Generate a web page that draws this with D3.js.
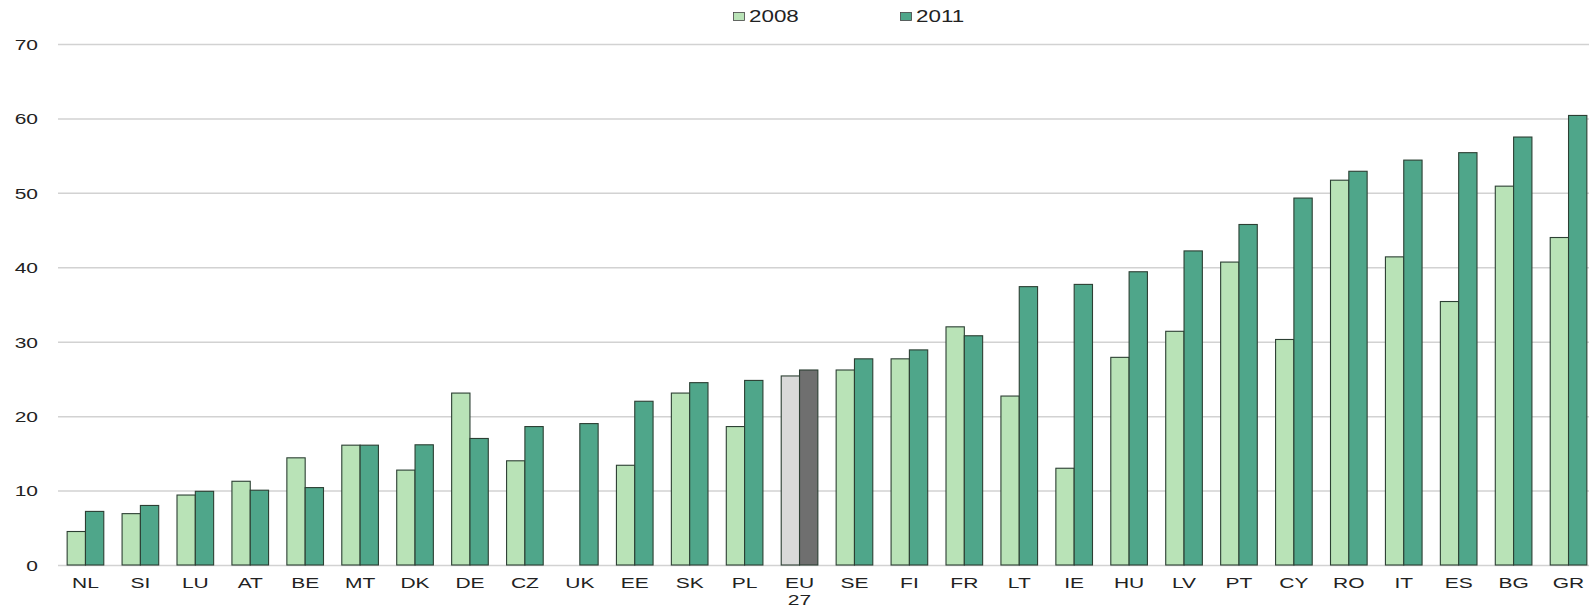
<!DOCTYPE html>
<html>
<head>
    <title>2008 vs 2011</title>
    <script src="https://d3js.org/d3.v7.min.js"></script>
    <style>
        body { margin: 0; background: #fff; }
        svg { display: block; }
        text { font-family: "Liberation Sans", Arial, sans-serif; font-size: 15px; fill: #222; }
        .grid line { stroke: #d2d2d2; stroke-width: 1.5; }
    </style>
</head>
<body>
    <svg id="chart" width="1589" height="608"></svg>

    <script>
        const countries = ["NL", "SI", "LU", "AT", "BE", "MT", "DK", "DE", "CZ", "UK", "EE", "SK", "PL", "EU 27",
                           "SE", "FI", "FR", "LT", "IE", "HU", "LV", "PT", "CY", "RO", "IT", "ES", "BG", "GR"];
        const v2008 = [4.5, 6.9, 9.4, 11.25, 14.4, 16.1, 12.75, 23.1, 14.0, null, 13.4, 23.1, 18.6, 25.4,
                       26.2, 27.7, 32.0, 22.7, 13.0, 27.9, 31.4, 40.7, 30.3, 51.7, 41.4, 35.4, 50.9, 44.0];
        const v2011 = [7.2, 8.0, 9.9, 10.05, 10.4, 16.1, 16.15, 17.0, 18.6, 19.0, 22.0, 24.5, 24.8, 26.2,
                       27.7, 28.9, 30.8, 37.4, 37.7, 39.4, 42.2, 45.75, 49.3, 52.9, 54.4, 55.4, 57.5, 60.4];
        const years = ["2008", "2011"];
        const yTicks = [0, 10, 20, 30, 40, 50, 60, 70];

        const fill = { "2008": "#b9e3b7", "2011": "#4fa68a" };
        const fillEU = { "2008": "#d9d9d9", "2011": "#6f6f6f" };
        const stretch = 1.4;   // the source text is drawn wide

        const svg = d3.select("#chart");
        const plotLeft = 58, plotRight = 1596, plotTop = 44, plotBottom = 565;

        const x = d3.scaleBand().domain(countries).range([plotLeft, plotRight])
            .paddingInner(0.333).paddingOuter(0.1665);
        const xs = d3.scaleBand().domain(years).range([0, x.bandwidth()]);
        const y = d3.scaleLinear().domain([0, 70]).range([plotBottom, plotTop]);

        // gridlines + y labels
        const yAxis = svg.append("g")
            .attr("class", "grid")
            .attr("transform", `translate(${plotLeft},0)`)
            .call(d3.axisLeft(y).tickValues(yTicks).tickSize(-(1589 - plotLeft)).tickPadding(0));
        yAxis.select(".domain").remove();
        yAxis.selectAll("text")
            .attr("x", -20 / stretch)
            .attr("dy", "0.36em")
            .attr("transform", `scale(${stretch},1)`)
            .style("font-size", "15px")
            .attr("fill", "#222");

        // bars
        const rows = countries.map((c, i) => ({ c, vals: [v2008[i], v2011[i]] }));
        const groups = svg.append("g").selectAll("g")
            .data(rows)
            .join("g")
            .attr("transform", d => `translate(${x(d.c)},0)`);

        groups.selectAll("rect")
            .data(d => years.map((yr, j) => ({ yr, v: d.vals[j], eu: d.c === "EU 27" })).filter(e => e.v != null))
            .join("rect")
            .attr("x", e => xs(e.yr))
            .attr("width", xs.bandwidth())
            .attr("y", e => y(e.v))
            .attr("height", e => y(0) - y(e.v))
            .attr("fill", e => (e.eu ? fillEU : fill)[e.yr])
            .attr("stroke", "#2c3f33")
            .attr("stroke-width", 1.1);

        // x labels
        groups.each(function (d) {
            const parts = d.c.split(" ");
            const cx = x.bandwidth() / 2;
            d3.select(this).selectAll("text.lab")
                .data(parts)
                .join("text")
                .attr("class", "lab")
                .attr("text-anchor", "middle")
                .attr("transform", (p, k) => `translate(${cx},${588 + k * 17}) scale(${stretch},1)`)
                .text(p => p);
        });

        // legend
        const legendX = { "2008": 733, "2011": 900 };
        const legend = svg.append("g").selectAll("g")
            .data(years)
            .join("g")
            .attr("transform", yr => `translate(${legendX[yr]},0)`);
        legend.append("rect")
            .attr("x", 0.5).attr("y", 12.5)
            .attr("width", 11).attr("height", 8)
            .attr("fill", yr => fill[yr])
            .attr("stroke", "#444").attr("stroke-width", 0.8);
        legend.append("text")
            .attr("transform", `translate(16,21.5) scale(${stretch},1)`)
            .style("font-size", "16px")
            .text(yr => yr);
    </script>
</body>
</html>
